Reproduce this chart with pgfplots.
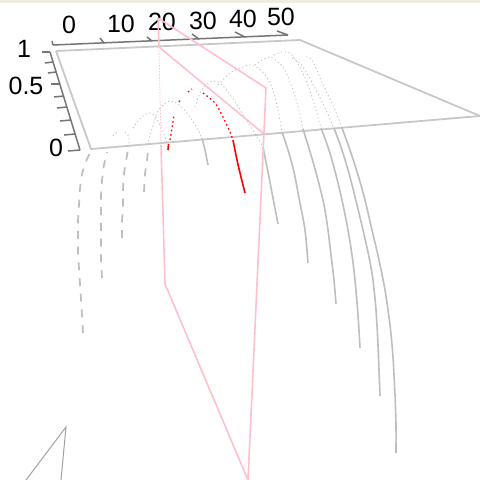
\documentclass[border=0pt]{standalone}
\usepackage{pgfplots}
\pgfplotsset{compat=1.18}
\usepackage{fontspec}
\setmainfont{Liberation Sans}
\definecolor{fr}{HTML}{C8C8C8}
\definecolor{gr}{HTML}{BEBEBE}
\definecolor{ax}{HTML}{757575}
\definecolor{pk}{HTML}{FFC0CB}
\definecolor{strip}{HTML}{EFEDE1}
\pgfplotsset{
 sol/.style={gr,line width=1.6pt,smooth,no markers},
 das/.style={gr,line width=1.7pt,smooth,no markers,dash pattern=on 8pt off 7.7pt},
 dot/.style={gr,line width=0.8pt,smooth,no markers,dash pattern=on 1.2pt off 2.6pt},
 rsol/.style={red,line width=1.6pt,smooth,no markers},
 rdot/.style={red,line width=1.3pt,smooth,no markers,dash pattern=on 1.6pt off 2.8pt},
 pl/.style={pk,line width=1.6pt,no markers},
 frm/.style={fr,line width=1.8pt,no markers},
 axl/.style={ax,line width=1.5pt,no markers},
}
\tikzset{lab/.style={font=\fontsize{25}{26}\selectfont,text=black,inner sep=0pt}}
\begin{document}
\begin{tikzpicture}
\begin{axis}[width=480pt,height=480pt,scale only axis,hide axis,
 xmin=0,xmax=480,ymin=0,ymax=480,y dir=reverse,clip=true]
% top strip
\addplot[fill=strip,draw=none] coordinates {(0,0)(480,0)(480,3.3)(0,3.3)} --cycle;
% frame
\addplot[frm] coordinates {(56,51)(300,40)(480,116)};
\addplot[frm] coordinates {(56,51)(91,149)(480,116)};
% axes
\addplot[axl] coordinates {(53,45)(288,35)};
\addplot[axl] coordinates {(52,41)(53,45)};
\addplot[axl] coordinates {(100,38)(104,43)};
\addplot[axl] coordinates {(147,37)(152,41)};
\addplot[axl] coordinates {(192,34)(199,39)};
\addplot[axl] coordinates {(235,32)(245,37)};
\addplot[axl] coordinates {(277,31)(288,35)};
\addplot[axl] coordinates {(50,52)(80,150)};
\addplot[axl] coordinates {(42,52)(50,52)};
\addplot[axl] coordinates {(45,63)(53,62)};
\addplot[axl] coordinates {(48,73)(56,72)};
\addplot[axl] coordinates {(51,84)(60,84)};
\addplot[axl] coordinates {(54,97)(64,96)};
\addplot[axl] coordinates {(57,108)(67,107)};
\addplot[axl] coordinates {(60,121)(71,120)};
\addplot[axl] coordinates {(64,135)(75,134)};
\addplot[axl] coordinates {(68,151)(80,150)};
% labels
\node[lab] at (axis cs:69,25) {0};
\node[lab] at (axis cs:121,24) {10};
\node[lab] at (axis cs:162,22) {20};
\node[lab] at (axis cs:203,21) {30};
\node[lab] at (axis cs:243,19) {40};
\node[lab] at (axis cs:281,17) {50};
\node[lab] at (axis cs:24,49) {1};
\node[lab] at (axis cs:26,86) {0.5};
\node[lab] at (axis cs:56,148) {0};
% dashed starts
\addplot[das] coordinates {(83,333)(82,315)(81,299)(80,284)(79,268)(78,252)(78,237)(78,221)(79,205)(80,189)(82,174)(87,159)(92,150)};
\addplot[das] coordinates {(102,278)(101,259)(101,243)(101,228)(101,212)(101,196)(102,181)(104,165)(107,152)};
\addplot[das] coordinates {(122,238)(122,222)(123,206)(123,190)(124,174)(126,161)(128,150)};
\addplot[das] coordinates {(144,192)(145,174)(147,160)(148,150)};
% dotted arcs
\addplot[dot] coordinates {(113,136)(117,132)};
\addplot[dot] coordinates {(125,132)(128,135)(129,140)(129,148)};
\addplot[dot] coordinates {(133,128)(137,122)(143,116)(150,113)(155,116)(160,125)(164,134)(167,143)};
\addplot[dot] coordinates {(148,145)(150,135)(153,126)(157,113)(163,105)(170,101)(178,104)(186,112)(192,120)(198,130)(202,138)};
\addplot[dot] coordinates {(195,107)(198,98)(203,88)(212,81)(220,83)(228,92)(236,103)(243,115)(250,126)(258,138)(263,147)};
\addplot[dot] coordinates {(218,85)(230,73)(243,67)(250,65)(258,68)(266,76)(273,90)(278,110)(282,132)};
\addplot[dot] coordinates {(255,65)(262,60)(270,57)(278,62)(285,70)(293,90)(299,110)(303,129)};
\addplot[dot] coordinates {(274,55)(282,52)(290,53)(297,62)(305,78)(313,100)(321,128)};
\addplot[dot] coordinates {(292,58)(300,63)(308,75)(316,90)(325,108)(334,128)};
\addplot[dot] coordinates {(306,57)(312,60)(320,78)(328,95)(335,110)(342,128)};
% solid ends
\addplot[sol] coordinates {(202,138)(205,150)(208,165)};
\addplot[sol] coordinates {(263,147)(268,172)(273,198)(278,224)};
\addplot[sol] coordinates {(282,132)(288,150)(294,172)(299,198)(305,230)(308,263)};
\addplot[sol] coordinates {(303,129)(311,155)(318,180)(324,205)(328,230)(331,255)(334,280)(336,304)};
\addplot[sol] coordinates {(321,128)(329,150)(336,175)(342,200)(348,230)(352,255)(355,280)(358,315)(360,348)};
\addplot[sol] coordinates {(334,128)(342,150)(350,177)(357,205)(363,230)(369,257)(373,280)(376,310)(378,345)(380,396)};
\addplot[sol] coordinates {(342,128)(350,150)(358,175)(365,200)(372,230)(379,260)(385,290)(390,325)(393,357)(395,395)(396,425)(396,453)};
% red
\addplot[rsol] coordinates {(168,150)(168.5,144)};
\addplot[rdot] coordinates {(170,140)(172,128)(174,115)};
\addplot[rdot] coordinates {(179,102)(181,99)};
\addplot[rdot] coordinates {(188,92)(192,89)};
\addplot[rdot] coordinates {(203,93)(215,103)(223,117)(230,132)(233,140)};
\addplot[rsol] coordinates {(233,140)(237,160)(241,177)(245,193)};
% pink plane
\addplot[pl] coordinates {(158,18)(266,88)(248,480)(165,284)(161,145)};
\addplot[pl] coordinates {(158,18)(159,47)(264,134)};
\addplot[pk,line width=0.8pt,no markers,dash pattern=on 1.5pt off 1.5pt] coordinates {(159,47)(161,145)};
% triangle
\addplot[gr!85!black,line width=1pt,no markers] coordinates {(26,480)(66,427)(61,480)};
\end{axis}
\end{tikzpicture}
\end{document}
